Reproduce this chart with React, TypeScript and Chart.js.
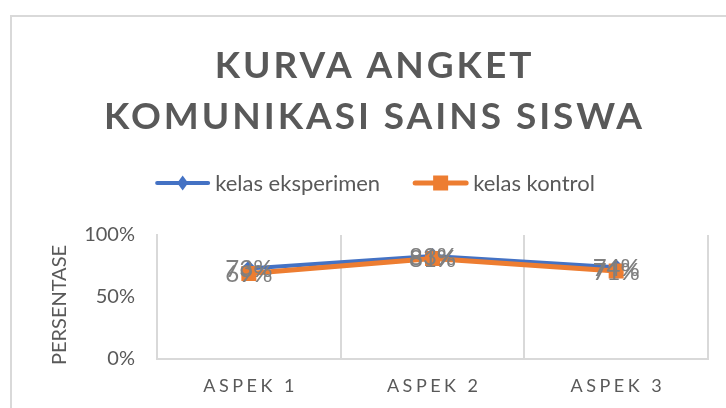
import React, { useEffect, useRef } from "react";
import { Chart, registerables } from "chart.js";

Chart.register(...registerables);

// ---- data ----
const TITLE_LINES = ["KURVA ANGKET", "KOMUNIKASI SAINS SISWA"];
const CATEGORIES = ["ASPEK 1", "ASPEK 2", "ASPEK 3"];
const SERIES_NAMES = ["kelas eksperimen", "kelas kontrol"];
const EKSPERIMEN = [73, 83, 74];
const KONTROL = [69, 81, 71];
const Y_TICKS = [0, 50, 100];
const Y_TITLE = "PERSENTASE";

// ---- styles ----
const FONT = "Lato, 'Open Sans', sans-serif";
const TEXT = "#595959";
const LABEL = "#7f7f7f";
const GRID = "#d9d9d9";
const BLUE = "#4472C4";
const ORANGE = "#ED7D31";

function drawSpaced(ctx: CanvasRenderingContext2D, text: string, cx: number, y: number, spacing: number) {
  (ctx as any).letterSpacing = "0px";
  const w0 = ctx.measureText(text).width;
  const total = w0 + spacing * (text.length - 1);
  (ctx as any).letterSpacing = spacing + "px";
  ctx.textAlign = "left";
  ctx.fillText(text, cx - total / 2, y);
  (ctx as any).letterSpacing = "0px";
}

const decorPlugin = {
  id: "decor",
  beforeDraw(chart: any) {
    const ctx: CanvasRenderingContext2D = chart.ctx;
    ctx.save();
    ctx.fillStyle = "#ffffff";
    ctx.fillRect(0, 0, chart.width, chart.height);
    ctx.strokeStyle = GRID;
    ctx.lineWidth = 2;
    ctx.strokeRect(11, 16, 900, 600);
    ctx.restore();
  },
  afterDatasetsDraw(chart: any) {
    const ctx: CanvasRenderingContext2D = chart.ctx;
    ctx.save();
    ctx.fillStyle = LABEL;
    ctx.font = `24px ${FONT}`;
    ctx.textAlign = "center";
    ctx.textBaseline = "middle";
    chart.data.datasets.forEach((ds: any, di: number) => {
      const meta = chart.getDatasetMeta(di);
      meta.data.forEach((pt: any, i: number) => {
        ctx.fillText(ds.data[i] + "%", pt.x, pt.y + 1);
      });
    });
    ctx.restore();
  },
  afterDraw(chart: any) {
    const ctx: CanvasRenderingContext2D = chart.ctx;
    ctx.save();
    // title
    ctx.fillStyle = TEXT;
    ctx.font = `bold 37px ${FONT}`;
    ctx.textBaseline = "alphabetic";
    (ctx as any).letterSpacing = "0px";
    const longest = TITLE_LINES[1];
    const w0 = ctx.measureText(longest).width;
    const spacing = (538 - w0) / (longest.length - 1);
    const baselines = [78, 129];
    TITLE_LINES.forEach((line, i) => drawSpaced(ctx, line, 373, baselines[i], spacing));

    // legend
    ctx.font = `22px ${FONT}`;
    ctx.textBaseline = "middle";
    const symW = 55;
    const gap = 5;
    const itemGap = 33;
    const tw = SERIES_NAMES.map((s) => ctx.measureText(s).width);
    const total = symW * 2 + gap * 2 + tw[0] + tw[1] + itemGap;
    let x = 375 - total / 2;
    const ly = 183;
    const colors = [BLUE, ORANGE];
    SERIES_NAMES.forEach((name, i) => {
      ctx.strokeStyle = colors[i];
      ctx.lineWidth = i === 0 ? 4 : 5;
      ctx.lineCap = "round";
      ctx.beginPath();
      ctx.moveTo(x + 2, ly);
      ctx.lineTo(x + symW - 2, ly);
      ctx.stroke();
      ctx.fillStyle = colors[i];
      const cx = x + symW / 2;
      if (i === 0) {
        ctx.beginPath();
        ctx.moveTo(cx, ly - 7.5);
        ctx.lineTo(cx + 5.5, ly);
        ctx.lineTo(cx, ly + 7.5);
        ctx.lineTo(cx - 5.5, ly);
        ctx.closePath();
        ctx.fill();
      } else {
        ctx.fillRect(cx - 7.5, ly - 7.5, 15, 15);
      }
      ctx.fillStyle = TEXT;
      ctx.textAlign = "left";
      ctx.fillText(name, x + symW + gap, ly + 1);
      x += symW + gap + tw[i] + itemGap;
    });

    // x labels
    const xs = chart.scales.x;
    ctx.font = `18px ${FONT}`;
    ctx.textBaseline = "middle";
    ctx.fillStyle = TEXT;
    CATEGORIES.forEach((c, i) => drawSpaced(ctx, c, xs.getPixelForValue(i), 386, 3.5));

    // y title
    ctx.save();
    ctx.translate(60, 305);
    ctx.rotate(-Math.PI / 2);
    ctx.font = `20px ${FONT}`;
    ctx.textAlign = "center";
    ctx.textBaseline = "middle";
    ctx.fillText(Y_TITLE, 0, 0);
    ctx.restore();

    ctx.restore();
  },
};

export default function App() {
  const ref = useRef<HTMLCanvasElement | null>(null);
  useEffect(() => {
    if (!ref.current) return;
    const chart = new Chart(ref.current, {
      type: "line",
      data: {
        labels: CATEGORIES,
        datasets: [
          {
            label: SERIES_NAMES[0],
            data: EKSPERIMEN,
            borderColor: BLUE,
            backgroundColor: BLUE,
            borderWidth: 4,
            pointStyle: "rectRot",
            pointRadius: 8,
            pointBorderWidth: 0,
            tension: 0,
            borderCapStyle: "round",
            borderJoinStyle: "round",
            order: 1,
          },
          {
            label: SERIES_NAMES[1],
            data: KONTROL,
            borderColor: ORANGE,
            backgroundColor: ORANGE,
            borderWidth: 5,
            pointStyle: "rect",
            pointRadius: 10.6,
            pointBorderWidth: 0,
            tension: 0,
            borderCapStyle: "round",
            borderJoinStyle: "round",
            order: 0,
          },
        ],
      },
      options: {
        animation: false,
        responsive: false,
        layout: { padding: { top: 235, right: 18, left: 0, bottom: 0 } },
        plugins: {
          legend: { display: false },
          title: { display: false },
          tooltip: { enabled: false },
        },
        events: [],
        scales: {
          x: {
            offset: true,
            grid: { display: true, offset: true, color: GRID, lineWidth: 2, drawTicks: false },
            border: { display: true, color: GRID, width: 2 },
            ticks: { display: false },
            afterFit: (s: any) => {
              s.height = 49;
            },
          },
          y: {
            min: 0,
            max: 100,
            afterBuildTicks: (s: any) => {
              s.ticks = Y_TICKS.map((v) => ({ value: v }));
            },
            ticks: {
              callback: (v: any) => v + "%",
              color: TEXT,
              font: { family: FONT, size: 20 },
              padding: 22,
            },
            grid: { display: false, drawTicks: false },
            border: { display: true, color: GRID, width: 2 },
            afterFit: (s: any) => {
              s.width = 157;
            },
          },
        },
      },
      plugins: [decorPlugin],
    });
    return () => chart.destroy();
  }, []);
  return (
    <div style={{ position: "absolute", left: 0, top: 0, width: 726, height: 408, background: "#fff" }}>
      <canvas ref={ref} width={726} height={408} style={{ display: "block" }} />
    </div>
  );
}
